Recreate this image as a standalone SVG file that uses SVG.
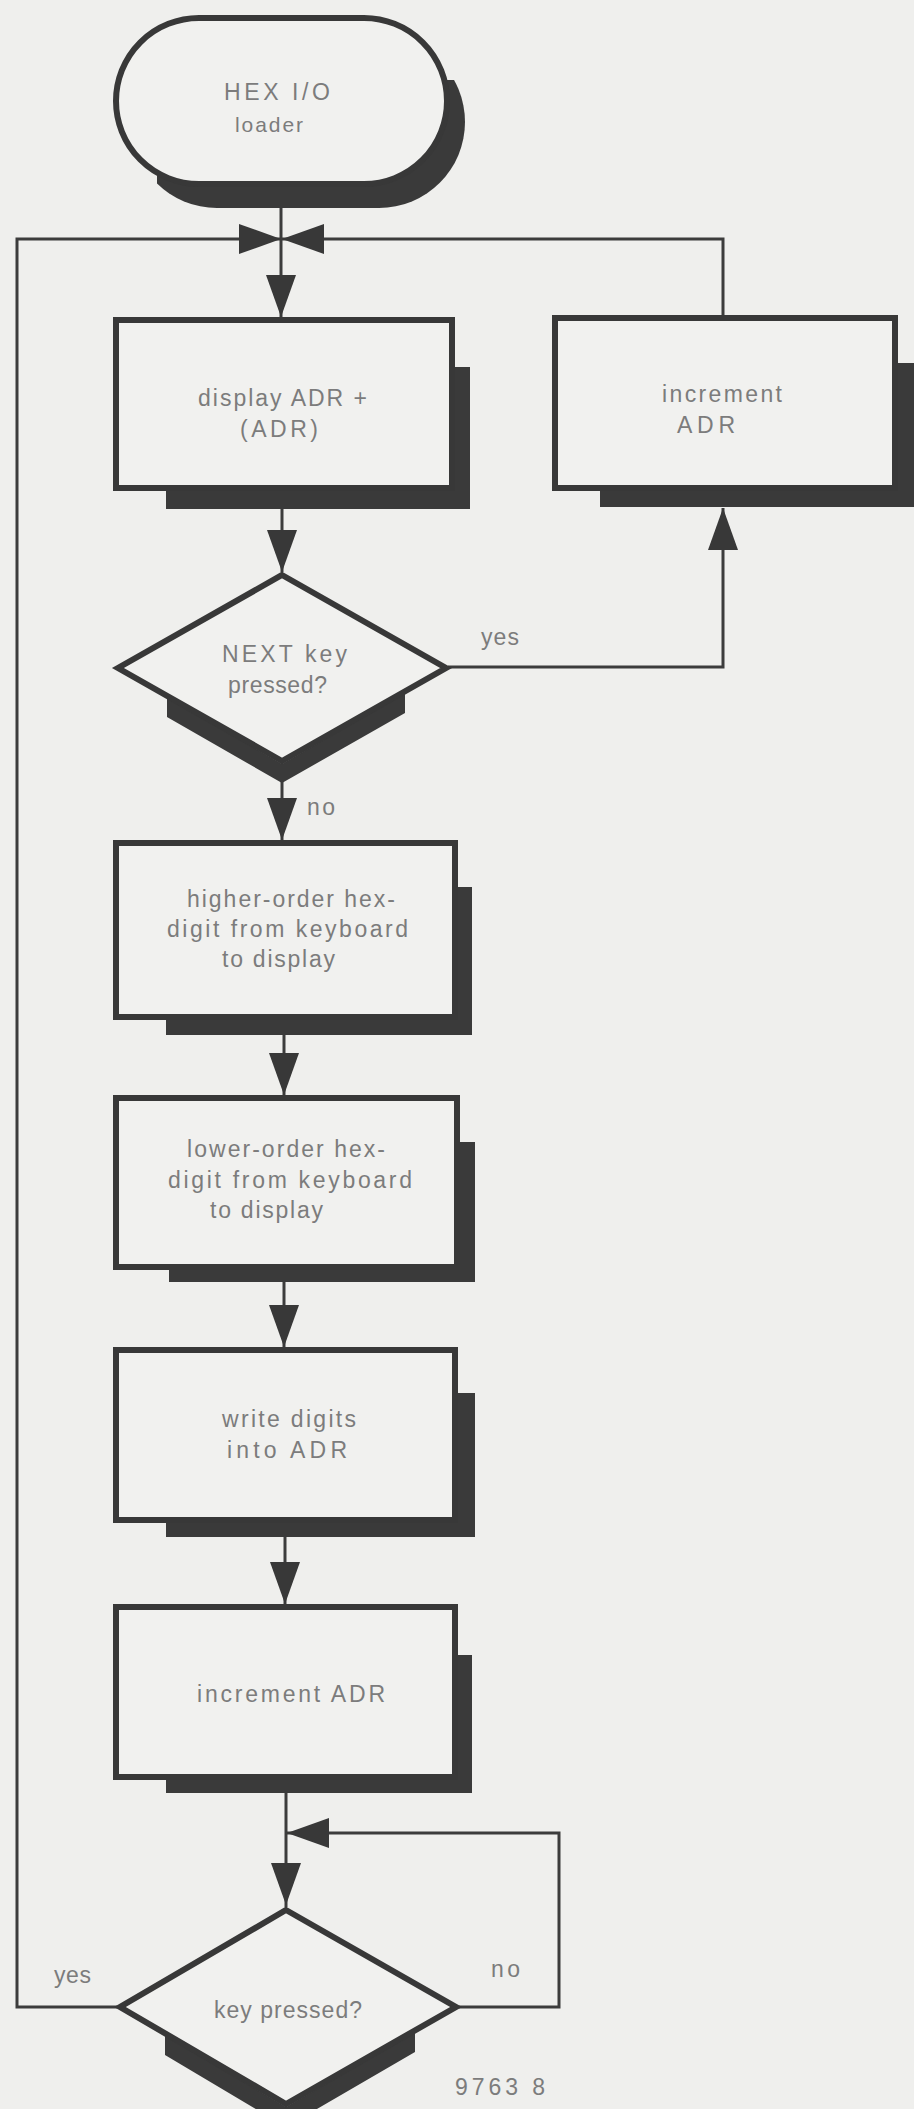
<svg xmlns="http://www.w3.org/2000/svg" xmlns:xlink="http://www.w3.org/1999/xlink" width="914" height="2109" viewBox="0 0 914 2109">
<style>
.bg{fill:#efefed}
.box{fill:#f1f1ef;stroke:#383838;stroke-width:6}
.dia{fill:#f1f1ef;stroke:#383838;stroke-width:6;stroke-linejoin:miter}
.sh{fill:#3a3a3a}
.ln{fill:none;stroke:#3c3c3c;stroke-width:3}
.ah{fill:#383838}
.t{font-family:"Liberation Sans",Arial,sans-serif;font-size:23px;fill:#7c7c7c}
</style>
<defs>
<path id="ah" d="M-15,-42 L15,-42 L0,0 Z"/>
<clipPath id="ovclip"><path d="M300,80 L470,80 L470,215 L157,215 L157,150 Z"/></clipPath>
</defs>
<rect class="bg" x="0" y="0" width="914" height="2109"/>

<g id="connectors">
<path class="ln" d="M281,200 L281,317"/>
<path class="ln" d="M117,2007 L17,2007 L17,239 L281,239"/>
<path class="ln" d="M723,315 L723,239 L281,239"/>
<path class="ln" d="M282,509 L282,572"/>
<path class="ln" d="M448,667 L723,667 L723,508"/>
<path class="ln" d="M282,780 L282,840"/>
<path class="ln" d="M284,1035 L284,1095"/>
<path class="ln" d="M284,1282 L284,1347"/>
<path class="ln" d="M285,1537 L285,1604"/>
<path class="ln" d="M286,1793 L286,1907"/>
<path class="ln" d="M459,2007 L559,2007 L559,1833 L286,1833"/>
<use class="ah" xlink:href="#ah" href="#ah" transform="translate(281,239) rotate(-90)"/>
<use class="ah" xlink:href="#ah" href="#ah" transform="translate(282,239) rotate(90)"/>
<use class="ah" xlink:href="#ah" href="#ah" transform="translate(281,317)"/>
<use class="ah" xlink:href="#ah" href="#ah" transform="translate(282,572)"/>
<use class="ah" xlink:href="#ah" href="#ah" transform="translate(723,508) rotate(180)"/>
<use class="ah" xlink:href="#ah" href="#ah" transform="translate(282,840)"/>
<use class="ah" xlink:href="#ah" href="#ah" transform="translate(284,1095)"/>
<use class="ah" xlink:href="#ah" href="#ah" transform="translate(284,1347)"/>
<use class="ah" xlink:href="#ah" href="#ah" transform="translate(285,1604)"/>
<use class="ah" xlink:href="#ah" href="#ah" transform="translate(287,1833) rotate(90)"/>
<use class="ah" xlink:href="#ah" href="#ah" transform="translate(286,1905)"/>
<text class="t" x="481" y="645" textLength="38">yes</text>
<text class="t" x="307" y="815" textLength="28">no</text>
<text class="t" x="54" y="1983" textLength="37">yes</text>
<text class="t" x="491" y="1977" textLength="29">no</text>
</g>

<g id="start">
<rect class="sh" x="131" y="36" width="334" height="172" rx="86" clip-path="url(#ovclip)"/>
<rect class="box" x="116" y="18" width="331" height="166" rx="83"/>
<text class="t" x="224" y="100" textLength="106">HEX I/O</text>
<text class="t" x="235" y="132" textLength="68" style="font-size:21px">loader</text>
</g>

<g id="display">
<path class="sh" d="M455,367 L470,367 L470,509 L166,509 L166,491 L455,491 Z"/>
<rect class="box" x="116" y="320" width="336" height="168"/>
<text class="t" x="198" y="406" textLength="169">display ADR +</text>
<text class="t" x="240" y="437" textLength="78">(ADR)</text>
</g>

<g id="increment1">
<path class="sh" d="M898,363 L914,363 L914,507 L600,507 L600,491 L898,491 Z"/>
<rect class="box" x="555" y="318" width="340" height="170"/>
<text class="t" x="662" y="402" textLength="120">increment</text>
<text class="t" x="677" y="433" textLength="58">ADR</text>
</g>

<g id="nextkey">
<path class="sh" d="M167,697 L282,764 L405,693 L405,713 L282,783 L167,717 Z"/>
<polygon class="dia" points="282,575 446,668 282,761 118,668"/>
<text class="t" x="222" y="662" textLength="125">NEXT key</text>
<text class="t" x="228" y="693" textLength="99">pressed?</text>
</g>

<g id="higher">
<path class="sh" d="M458,887 L472,887 L472,1035 L166,1035 L166,1020 L458,1020 Z"/>
<rect class="box" x="116" y="843" width="339" height="174"/>
<text class="t" x="187" y="907" textLength="208">higher-order hex-</text>
<text class="t" x="167" y="937" textLength="241">digit from keyboard</text>
<text class="t" x="222" y="967" textLength="113">to display</text>
</g>

<g id="lower">
<path class="sh" d="M460,1142 L475,1142 L475,1282 L169,1282 L169,1270 L460,1270 Z"/>
<rect class="box" x="116" y="1098" width="341" height="169"/>
<text class="t" x="187" y="1157" textLength="198">lower-order hex-</text>
<text class="t" x="168" y="1188" textLength="244">digit from keyboard</text>
<text class="t" x="210" y="1218" textLength="113">to display</text>
</g>

<g id="write">
<path class="sh" d="M458,1393 L475,1393 L475,1537 L166,1537 L166,1523 L458,1523 Z"/>
<rect class="box" x="116" y="1350" width="339" height="170"/>
<text class="t" x="222" y="1427" textLength="134">write digits</text>
<text class="t" x="227" y="1458" textLength="120">into ADR</text>
</g>

<g id="increment2">
<path class="sh" d="M458,1655 L472,1655 L472,1793 L166,1793 L166,1780 L458,1780 Z"/>
<rect class="box" x="116" y="1607" width="339" height="170"/>
<text class="t" x="197" y="1702" textLength="188">increment ADR</text>
</g>

<g id="keypressed">
<path class="sh" d="M165,2035 L286,2107 L415,2032 L415,2052 L286,2127 L165,2055 Z"/>
<polygon class="dia" points="286,1910 456,2007 286,2104 120,2007"/>
<text class="t" x="214" y="2018" textLength="148">key pressed?</text>
</g>

<text class="t" x="455" y="2095" textLength="90">9763 8</text>
</svg>
